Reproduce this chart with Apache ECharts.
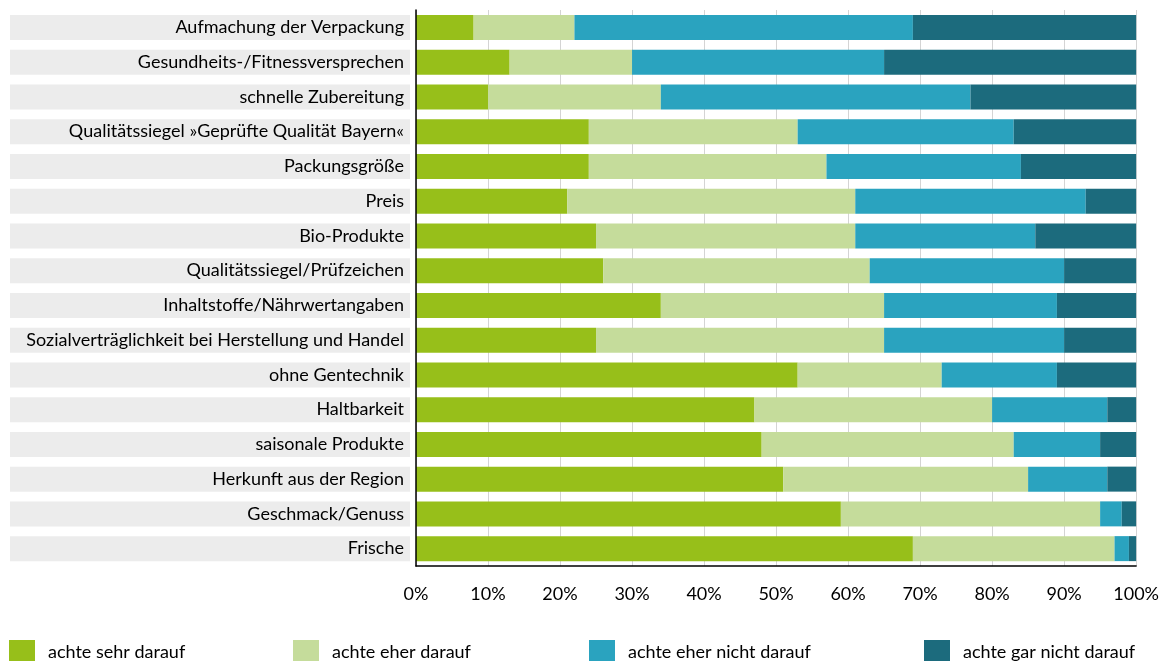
<!DOCTYPE html>
<html>
<head>
<meta charset="utf-8">
<script src="https://cdn.jsdelivr.net/npm/echarts@6/dist/echarts.min.js"></script>
<style>
  html, body { margin: 0; padding: 0; background: #fff; }
  #main { width: 1162px; height: 661px; }
</style>
</head>
<body>
<div id="main"></div>
<script>
var categories = [
    'Aufmachung der Verpackung',
    'Gesundheits-/Fitnessversprechen',
    'schnelle Zubereitung',
    'Qualitätssiegel »Geprüfte Qualität Bayern«',
    'Packungsgröße',
    'Preis',
    'Bio-Produkte',
    'Qualitätssiegel/Prüfzeichen',
    'Inhaltstoffe/Nährwertangaben',
    'Sozialverträglichkeit bei Herstellung und Handel',
    'ohne Gentechnik',
    'Haltbarkeit',
    'saisonale Produkte',
    'Herkunft aus der Region',
    'Geschmack/Genuss',
    'Frische'
];
var seriesNames = ['achte sehr darauf', 'achte eher darauf', 'achte eher nicht darauf', 'achte gar nicht darauf'];
var sehr      = [8, 13, 10, 24, 24, 21, 25, 26, 34, 25, 53, 47, 48, 51, 59, 69];
var eher      = [14, 17, 24, 29, 33, 40, 36, 37, 31, 40, 20, 33, 35, 34, 36, 28];
var eherNicht = [47, 35, 43, 30, 27, 32, 25, 27, 24, 25, 16, 16, 12, 11, 3, 2];
var garNicht  = [31, 35, 23, 17, 16, 7, 14, 10, 11, 10, 11, 4, 5, 4, 2, 1];
var colors = ['#97bf1a', '#c5dc9b', '#2aa3bf', '#1c6b7d'];

var myChart = echarts.init(document.getElementById('main'));
var values = [sehr, eher, eherNicht, garNicht];
var fontName = 'Lato';

// grauer Streifen hinter den Beschriftungen
var series = [{
    name: 'band',
    type: 'bar',
    xAxisIndex: 1,
    yAxisIndex: 1,
    barWidth: 25,
    silent: true,
    z: 0,
    itemStyle: { color: '#ececec' },
    data: categories.map(function () { return 1; })
}];
for (var i = 0; i < 4; i++) {
    series.push({
        name: seriesNames[i],
        type: 'bar',
        stack: 'total',
        barWidth: 25,
        itemStyle: { color: colors[i] },
        data: values[i]
    });
}

var legendLeft = [9, 293, 589, 924];
var legends = [];
for (var j = 0; j < 4; j++) {
    legends.push({
        left: legendLeft[j],
        top: 640,
        padding: 0,
        itemWidth: 26,
        itemHeight: 24,
        icon: 'rect',
        data: [seriesNames[j]],
        textStyle: { fontFamily: fontName, fontSize: 18, color: '#000', padding: [0, 0, 0, 8] }
    });
}

var option = {
    animation: false,
    legend: legends,
    grid: [
        { left: 416, right: 24, top: 10, bottom: 95 },
        { left: 10, width: 400, top: 10, bottom: 95 }
    ],
    xAxis: [{
        type: 'value',
        min: 0,
        max: 100,
        interval: 10,
        gridIndex: 0,
        axisLine: { show: true, lineStyle: { color: '#000', width: 1.5 } },
        axisTick: { show: false },
        splitLine: { lineStyle: { color: '#d4d4d4', width: 1 } },
        axisLabel: { formatter: '{value}%', margin: 19, fontFamily: fontName, fontSize: 18, color: '#000' }
    }, {
        type: 'value',
        min: 0,
        max: 1,
        gridIndex: 1,
        show: false
    }],
    yAxis: [{
        type: 'category',
        inverse: true,
        gridIndex: 0,
        z: 5,
        data: categories,
        axisLine: { show: true, lineStyle: { color: '#000', width: 1.5 } },
        axisTick: { show: false },
        axisLabel: { margin: 12, fontFamily: fontName, fontSize: 18, color: '#000' }
    }, {
        type: 'category',
        inverse: true,
        gridIndex: 1,
        data: categories,
        show: false
    }],
    series: series
};
myChart.setOption(option);
</script>
</body>
</html>
